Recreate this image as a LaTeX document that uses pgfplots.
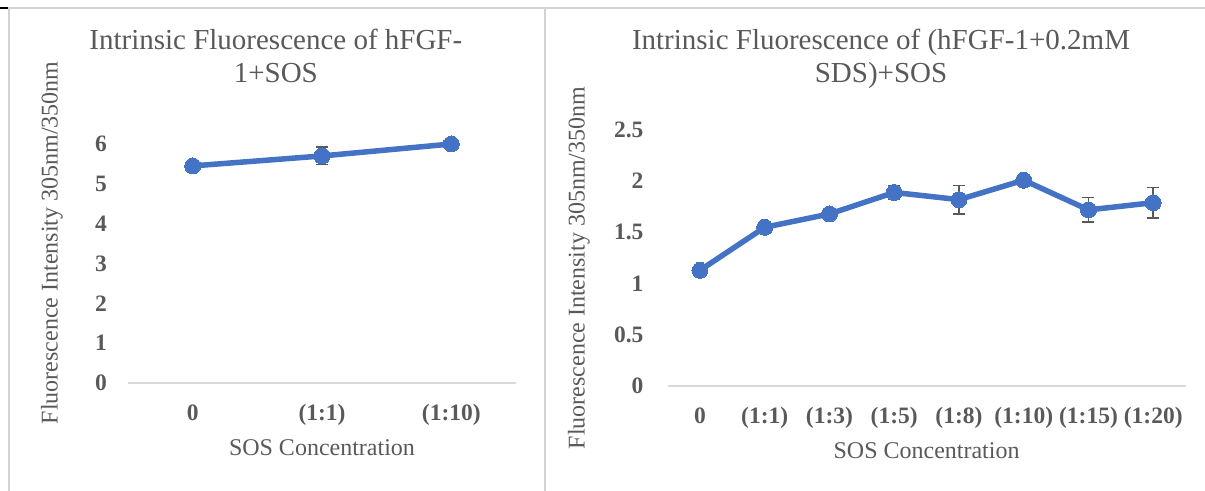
\documentclass[border=0pt]{standalone}
\usepackage{fontspec}
\setmainfont{Liberation Serif}
\usepackage{pgfplots}
\pgfplotsset{compat=1.18}

\definecolor{serieblue}{HTML}{4472C4}
\definecolor{txtgray}{HTML}{595959}
\definecolor{axgray}{HTML}{D9D9D9}
\definecolor{cellgray}{HTML}{D3D3D3}
\definecolor{errgray}{HTML}{595959}

% plain (no SDS) series: x index, mean, error
\pgfplotstableread{
x  y     e
0  5.45  0.05
1  5.70  0.22
2  6.00  0.03
}\plainsos

% with 0.2 mM SDS
\pgfplotstableread{
x  y     e
0  1.13  0.02
1  1.55  0.03
2  1.68  0.02
3  1.89  0.07
4  1.82  0.14
5  2.01  0.03
6  1.72  0.12
7  1.79  0.15
}\sdssos

\pgfplotsset{
  panel/.style={
    scale only axis,
    anchor=south west,
    axis x line*=bottom,
    axis y line*=left,
    x axis line style={axgray, line width=1.5bp},
    y axis line style={draw=none},
    tick style={draw=none},
    major tick length=0pt,
    ymin=0,
    xtick=data,
    clip=false,
    tick label style={font=\fontsize{23.5bp}{26bp}\selectfont\bfseries, text=txtgray},
    /pgf/number format/assume math mode=true,
    xticklabel style={anchor=base, inner sep=0pt, yshift=-37bp},
    label style={font=\fontsize{24bp}{27bp}\selectfont, text=txtgray},
    title style={inner sep=0pt, anchor=north, align=center,
      font=\fontsize{29bp}{33bp}\selectfont, text=txtgray},
  },
  errs/.style={draw=none, mark=none, forget plot,
    error bars/.cd, y dir=both, y explicit,
    error bar style={errgray, line width=1.5bp},
    error mark options={rotate=90, errgray, mark size=6bp, line width=1.5bp}},
  series/.style={serieblue, line width=5.5bp, mark=*,
    mark size=8bp, mark options={fill=serieblue, draw=serieblue, line width=0pt}},
}

\begin{document}
\begin{tikzpicture}
\useasboundingbox (0,0) rectangle (1205bp,491bp);

% table cell borders
\draw[cellgray, line width=2bp] (8bp,483bp) -- (1205bp,483bp);
\draw[cellgray, line width=2bp] (9bp,483bp) -- (9bp,0bp);
\draw[cellgray, line width=2bp] (545bp,483bp) -- (545bp,0bp);
\draw[black, line width=2.5bp] (0bp,483bp) -- (8bp,483bp);

% left panel
\begin{axis}[panel,
  at={(128bp,108bp)},
  width=388bp, height=239bp,
  xmin=-0.5, xmax=2.5, ymax=6,
  ytick={0,1,2,3,4,5,6},
  xticklabels={0,(1:1),(1:10)},
  yticklabel style={anchor=east, inner sep=0pt, xshift=-21bp},
  title={Intrinsic Fluorescence of hFGF-\\1+SOS},
  title style={at={(axis description cs:0.381,1.456)}},
  xlabel={SOS Concentration},
  xlabel style={at={(axis description cs:0.5,0)}, anchor=center, yshift=-65bp},
  ylabel={Fluorescence Intensity 305nm/350nm},
  ylabel style={at={(axis description cs:-0.196,0.586)}, anchor=center, rotate=0},
]
\addplot+[errs] table[x=x, y=y, y error=e] {\plainsos};
\addplot[series] table[x=x, y=y] {\plainsos};
\end{axis}

% right panel
\begin{axis}[panel,
  at={(667.6bp,105bp)},
  width=518bp, height=256bp,
  xmin=-0.5, xmax=7.5, ymax=2.5,
  ytick={0,0.5,1,1.5,2,2.5},
  yticklabels={0,0.5,1,1.5,2,2.5},
  xticklabels={0,(1:1),(1:3),(1:5),(1:8),(1:10),(1:15),(1:20)},
  yticklabel style={anchor=east, inner sep=0pt, xshift=-24bp},
  title={Intrinsic Fluorescence of (hFGF-1+0.2mM\\SDS)+SOS},
  title style={at={(axis description cs:0.412,1.371)}},
  xlabel={SOS Concentration},
  xlabel style={at={(axis description cs:0.5,0)}, anchor=center, yshift=-65bp},
  ylabel={Fluorescence Intensity 305nm/350nm},
  ylabel style={at={(axis description cs:-0.1715,0.461)}, anchor=center, rotate=0},
]
\addplot+[errs] table[x=x, y=y, y error=e] {\sdssos};
\addplot[series] table[x=x, y=y] {\sdssos};
\end{axis}
\end{tikzpicture}
\end{document}
